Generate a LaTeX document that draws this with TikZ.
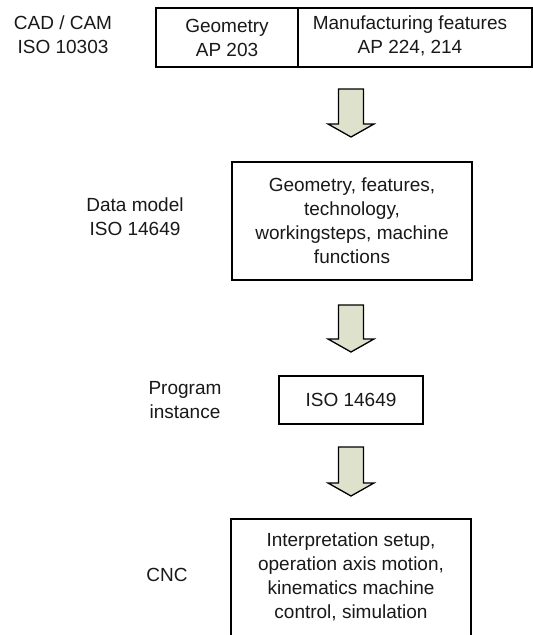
\documentclass[tikz,border=0pt]{standalone}
\usepackage{fontspec}
\setmainfont{Liberation Sans}
\definecolor{arrowfill}{RGB}{222,225,204}
\definecolor{txt}{RGB}{25,25,25}
\begin{document}
\begin{tikzpicture}[x=1pt,y=-1pt,
  every node/.style={font=\fontsize{19}{24}\selectfont, text=txt, align=center, inner sep=0pt},
  box/.style={draw=black, line width=1.4pt},
  blockarrow/.style={draw=black, line width=1.3pt, fill=arrowfill, line join=miter}]
\useasboundingbox (0,0) rectangle (533,635);
\clip (0,0) rectangle (533,635);
\fill[white] (0,0) rectangle (533,635);

% labels on the left
\node (lcad) at (63,35) {CAD / CAM\\ISO 10303};
\node (ldata) at (135,217) {Data model\\ISO 14649};
\node (lprog) at (185,400) {Program\\instance};
\node (lcnc) at (167,575) {CNC};

% top boxes
\node[box, minimum width=142pt, minimum height=59pt] (geo) at (227,37.5) {Geometry\\AP 203};
\node[box, minimum width=234pt, minimum height=59pt] (mf) at (415,37.5) {};
\node (mft) at (410,36) {Manufacturing features\\AP 224, 214};

% data model box
\node[box, minimum width=240pt, minimum height=118pt] (dm) at (352,221)
  {Geometry, features,\\technology,\\workingsteps, machine\\functions};

% program instance box
\node[box, minimum width=144pt, minimum height=48pt] (pi) at (351,400) {ISO 14649};

% CNC box (open at the bottom, runs past the edge)
\node[box, minimum width=240pt, minimum height=140pt] (cnc) at (351,589) {};
\node (cnct) at (351,577) {Interpretation setup,\\operation axis motion,\\kinematics machine\\control, simulation};

% block arrows
\foreach \t/\h/\b [count=\i] in {89/124/137, 305/339/352, 447/483/496}{
  \draw[blockarrow] (338.5,\t) -- (363.5,\t) -- (363.5,\h) -- (374,\h)
     -- (351,\b) -- (328,\h) -- (338.5,\h) -- cycle;
}
\end{tikzpicture}
\end{document}
